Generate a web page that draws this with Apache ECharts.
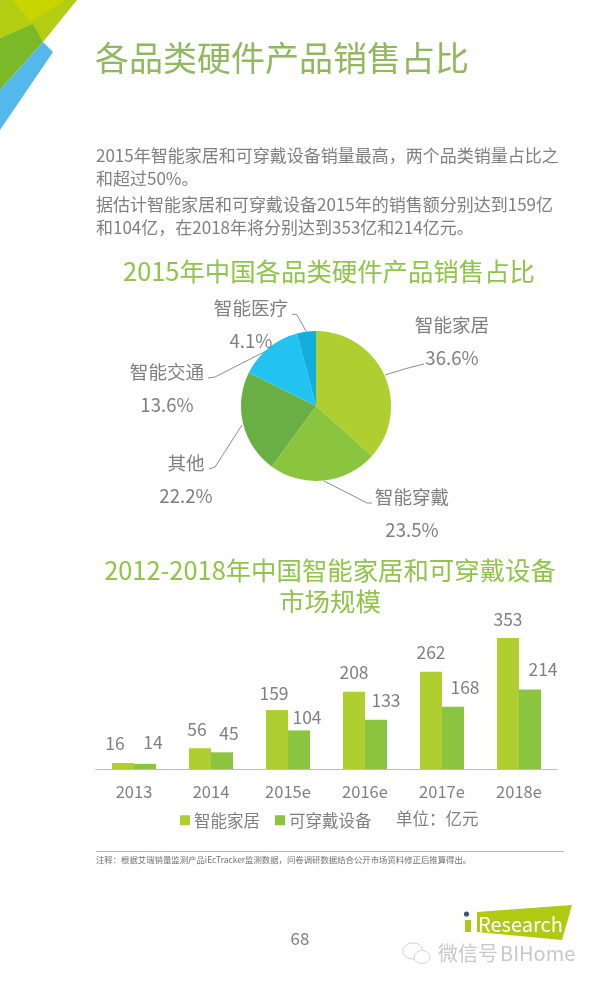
<!DOCTYPE html>
<html><head><meta charset="utf-8">
<style>html,body{margin:0;padding:0;background:#fff}#c{width:600px;height:984px}</style>
<script src="https://cdn.jsdelivr.net/npm/echarts@6/dist/echarts.min.js"></script>
</head><body><div id="c"></div>
<script>
const FONT = '"Noto Sans CJK SC","Noto Sans",sans-serif';
const pieNames = ['智能家居','智能穿戴','其他','智能交通','智能医疗'];
const pieValues = [36.6,23.5,22.2,13.6,4.1];
const pieColors = ['#AECF2F','#8BC53F','#69AF44','#22C3F0','#13AEDD'];
const pieLabelAt = [[452,341.5],[412,513],[186,479.5],[167,388.5],[251,324]];
const pieLeaders = [
  [[385,375],[408,368],[424,364]],
  [[324,481],[367,503],[372,503]],
  [[242,425],[215,467],[209,469]],
  [[266,351],[215,377],[208,378]],
  [[306,331],[297,315],[292,314]]
];
const years = ['2013','2014','2015e','2016e','2017e','2018e'];
const homeValues = [16,56,159,208,262,353];
const wearValues = [14,45,104,133,168,214];
const homeLabelShift = [[-8,-4],[-3,-3],[-3,-1],[0,-4],[0,-4],[0,-3]];
const wearLabelShift = [[8,-6],[7,-3],[8,3],[10,-4],[12,-4],[13,-4]];
const GREY = '#7f7f7f';

function txt(text,x,y,size,color,align){
  return {type:'text',x:x,y:y,silent:true,style:{text:text,fontSize:size,fill:color,fontFamily:FONT,textAlign:align||'left',textVerticalAlign:'middle'}};
}
function poly(pts,color){return {type:'polygon',silent:true,shape:{points:pts},style:{fill:color}};}
function barData(vals,shift){
  return vals.map((v,i)=>({value:v,label:{offset:shift[i]}}));
}
const barLabel = {show:true,position:'top',distance:7,fontSize:17.5,color:GREY,fontFamily:FONT};

const chart = echarts.init(document.getElementById('c'),null,{renderer:'canvas'});
chart.setOption({
  animation:false,
  backgroundColor:'#fff',
  textStyle:{fontFamily:FONT},
  grid:{left:95.5,width:462,top:602,height:167},
  xAxis:{type:'category',data:years,axisTick:{show:false},
    axisLine:{lineStyle:{color:'#bdbdbd',width:1}},
    axisLabel:{fontSize:16.5,color:GREY,margin:14,fontFamily:FONT}},
  yAxis:{type:'value',min:0,max:450,show:false,splitLine:{show:false}},
  legend:{data:['智能家居','可穿戴设备'],left:175,top:807,itemWidth:10,itemHeight:10,itemGap:15,icon:'rect',
    textStyle:{fontSize:16.5,color:GREY,fontFamily:FONT,padding:[0,0,0,-1]}},
  series:[
    {type:'bar',name:'智能家居',data:barData(homeValues,homeLabelShift),barWidth:22,barGap:0,itemStyle:{color:pieColors[0]},label:barLabel},
    {type:'bar',name:'可穿戴设备',data:barData(wearValues,wearLabelShift),barWidth:22,barGap:0,itemStyle:{color:pieColors[1]},label:barLabel},
    {type:'pie',name:'占比',center:[316,406],radius:75,startAngle:90,clockwise:true,
      data:pieNames.map((n,i)=>({name:n,value:pieValues[i],itemStyle:{color:pieColors[i]}})),
      label:{show:true,formatter:'{b}\n{c}%',fontSize:18.6,lineHeight:33,color:GREY,fontFamily:FONT,align:'center'},
      labelLine:{show:true,lineStyle:{color:'#8c8c8c',width:1}},
      labelLayout:function(p){
        const i=p.dataIndex;
        return {x:pieLabelAt[i][0],y:pieLabelAt[i][1],align:'center',verticalAlign:'middle',labelLinePoints:pieLeaders[i]};
      },
      emphasis:{disabled:true}
    }
  ],
  graphic:{elements:[
    poly([[0,0],[77,0],[43,42],[32,25],[0,38]],'#B3CE12'),
    poly([[12,0],[65,0],[31,22]],'#C9D500'),
    poly([[0,38],[33,24],[43,42],[0,90]],'#7CB928'),
    poly([[43,42],[53,52],[0,130],[0,90]],'#55B8EA'),
    txt('各品类硬件产品销售占比',95,58,34,'#8FB85F'),
    txt('2015年智能家居和可穿戴设备销量最高，两个品类销量占比之',96,156,17,GREY),
    txt('和超过50%。',96,179,17,GREY),
    txt('据估计智能家居和可穿戴设备2015年的销售额分别达到159亿',96,205,17,GREY),
    txt('和104亿，在2018年将分别达到353亿和214亿元。',96,228,17,GREY),
    txt('2015年中国各品类硬件产品销售占比',329,271,25.4,'#8FC449','center'),
    txt('2012-2018年中国智能家居和可穿戴设备',330,570,25.4,'#8FC449','center'),
    txt('市场规模',330,601,25.4,'#8FC449','center'),
    txt('单位：亿元',396,819,16.5,GREY),
    {type:'line',silent:true,shape:{x1:96,y1:851.5,x2:564,y2:851.5},style:{stroke:'#b5b5b5',lineWidth:1}},
    txt('注释：根据艾瑞销量监测产品iEcTracker监测数据，问卷调研数据结合公开市场资料修正后推算得出。',96,860,8.4,'#6f6f6f'),
    txt('68',300,939,17,GREY,'center'),
    poly([[477,912],[572,905],[562,940],[477,932]],'#B0C912'),
    poly([[465,920],[471,920],[471,932],[465,932]],'#B0C912'),
    {type:'circle',silent:true,shape:{cx:466.5,cy:914,r:2.6},style:{fill:'#2F5D7C'}},
    txt('Research',478,924,20,'#ffffff'),
    {type:'ellipse',silent:true,shape:{cx:413,cy:951,rx:10,ry:8},style:{fill:'none',stroke:'#d0d0d0',lineWidth:1}},
    {type:'ellipse',silent:true,shape:{cx:422,cy:957,rx:8,ry:6.5},style:{fill:'#fff',stroke:'#d0d0d0',lineWidth:1}},
    txt('微信号',438,953,20,'#c8c8c8'),
    txt('BIHome',500,953,20,'#c8c8c8')
  ]}
});
</script></body></html>
